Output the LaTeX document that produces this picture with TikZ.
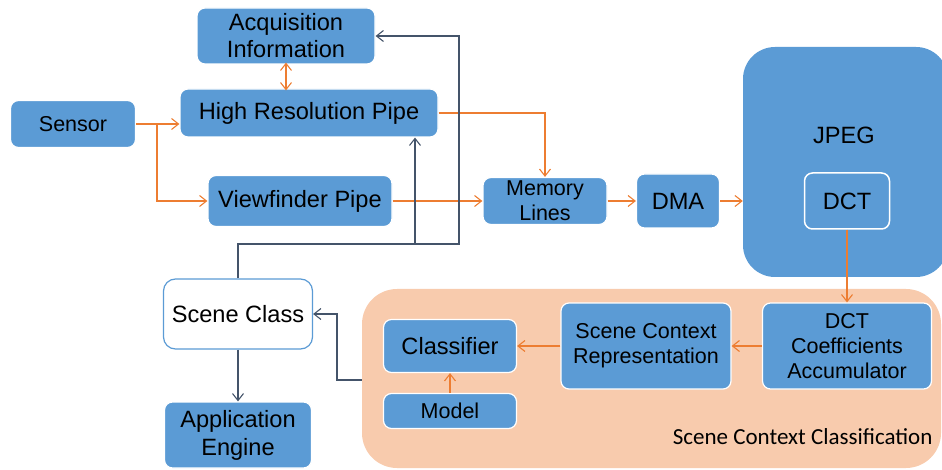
\documentclass[tikz,border=0pt]{standalone}
\usepackage{fontspec}
\setmainfont{Liberation Sans}
\newfontfamily\labelfont{Carlito}
\usetikzlibrary{arrows.meta}
\definecolor{blueF}{HTML}{5B9BD5}
\definecolor{peach}{HTML}{F8CBAD}
\definecolor{orangeL}{HTML}{ED7D31}
\definecolor{slateL}{HTML}{44546A}
\tikzset{
  barb/.tip={Straight Barb[length=7pt, width=11pt, line width=1.1pt]},
  box/.style={rounded corners=8pt, fill=blueF, draw=white, line width=1.2pt,
    align=center, inner sep=0pt, text=black, font=\fontsize{23.6}{27}\selectfont},
  smallbox/.style={box, font=\fontsize{21.5}{25}\selectfont},
  oarr/.style={draw=orangeL, line width=1.2pt, -{barb}},
  darr/.style={draw=slateL, line width=1.2pt, -{barb}},
}
\begin{document}
\begin{tikzpicture}[x=1pt, y=-1pt]
\useasboundingbox (0,0) rectangle (942,470);
\clip (0,0) rectangle (942,470);

% classification region and JPEG block
\node[fill=peach, rounded corners=35pt, minimum width=579pt, minimum height=179pt, inner sep=0pt] (region) at (651.5,378.5) {};
\node[fill=blueF, rounded corners=32pt, minimum width=205pt, minimum height=230pt, inner sep=0pt] (jpeg) at (845.5,162) {};
\node[font=\fontsize{23.6}{27}\selectfont] (jpegtxt) at (844,135) {JPEG};

% processing blocks
\node[box, minimum width=178pt, minimum height=56pt] (acq) at (286,36) {Acquisition\\Information};
\node[box, minimum width=258pt, minimum height=48pt] (hrp) at (309,113) {High Resolution Pipe};
\node[smallbox, minimum width=125pt, minimum height=47pt] (sensor) at (73,124) {Sensor};
\node[box, minimum width=184pt, minimum height=51pt] (vf) at (300,201) {Viewfinder Pipe};
\node[smallbox, minimum width=124pt, minimum height=47pt] (mem) at (545,201) {Memory\\Lines};
\node[box, minimum width=83pt, minimum height=54pt] (dma) at (678,201) {DMA};
\node[box, minimum width=85pt, minimum height=56pt, line width=1.5pt] (dct) at (847,201) {DCT};

\node[smallbox, minimum width=169pt, minimum height=86pt] (acc) at (847,346) {DCT\\Coefficients\\Accumulator};
\node[smallbox, minimum width=170pt, minimum height=86pt] (rep) at (646,346) {Scene Context\\Representation};
\node[box, minimum width=133pt, minimum height=53pt] (cls) at (450,346) {Classifier};
\node[smallbox, minimum width=133pt, minimum height=35pt] (model) at (450,411) {Model};

\node[box, fill=white, draw=blueF, rounded corners=12pt, minimum width=149pt, minimum height=70pt] (sc) at (238,314) {Scene Class};
\node[box, minimum width=147pt, minimum height=66pt, font=\fontsize{23.6}{28}\selectfont] (app) at (238,435) {Application\\Engine};

\node[font=\labelfont\fontsize{23}{27}\selectfont, anchor=east] (sccl) at (936,437) {Scene Context Classification};

% data path
\coordinate (split) at (157,124);
\draw[oarr] (sensor.east) -- (sensor.east -| hrp.west);
\draw[oarr] (split) |- (vf.west);
\draw[oarr, {barb}-{barb}] ([yshift=2pt]acq.south) -- ([yshift=-2pt]acq.south |- hrp.north);
\draw[oarr] (hrp.east) -| (mem.north);
\draw[oarr] (vf.east) -- (mem.west);
\draw[oarr] (mem.east) -- (dma.west);
\draw[oarr] (dma.east) -- (dma.east -| jpeg.west);
\draw[oarr] (dct.south) -- (acc.north);
\draw[oarr] (acc.west) -- (rep.east);
\draw[oarr] (rep.west) -- (cls.east);
\draw[oarr] (model.north) -- (cls.south);

% control path
\coordinate (bus) at (459,244);
\coordinate (tap) at (415,244);
\coordinate (bend) at (337,380);
\draw[darr] (region.west |- bend) -- (bend) |- (sc.east);
\draw[darr] (sc.south) -- (app.north);
\draw[darr] (sc.north) |- (bus) |- (acq.east);
\draw[darr] (tap) -- (tap |- hrp.south);
\end{tikzpicture}
\end{document}
